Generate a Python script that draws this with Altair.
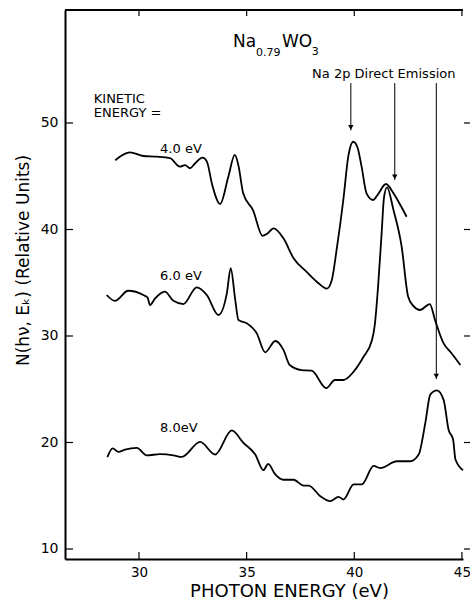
import altair as alt
import pandas as pd

# ---------------- data ----------------
ke4_x = [28.9, 29.2, 29.58, 30.2, 30.82, 31.44, 31.9, 32.14, 32.37, 32.6, 32.95, 33.15, 33.4, 33.77,
         34.15, 34.45, 34.62, 34.84, 35.3, 35.74, 35.95, 36.25, 36.71, 37.18, 37.8, 38.26, 38.73,
         38.95, 39.18, 39.49, 39.72, 39.95, 40.15, 40.34, 40.57, 40.88, 41.1, 41.47, 41.82, 42.14, 42.43]
ke4_y = [46.5, 46.95, 47.25, 46.9, 46.84, 46.7, 45.9, 46.05, 45.75, 46.2, 46.75, 46.4, 44.2, 42.4,
         44.96, 47.0, 46.0, 43.4, 41.8, 39.4, 39.6, 40.1, 39.17, 37.3, 36.0, 35.1, 34.45,
         35.2, 38.1, 42.77, 46.84, 48.24, 47.7, 45.9, 43.4, 42.77, 43.3, 44.27, 43.4, 42.3, 41.2]

ke6_x = [28.5, 28.88, 29.5, 30.2, 30.4, 30.51, 30.74, 31.2, 31.6, 32.06, 32.68, 33.15, 33.69, 34.08,
         34.26, 34.47, 34.62, 35.0, 35.47, 35.86, 36.33, 36.71, 37.0, 37.56, 38.02, 38.7, 39.1, 39.5,
         39.97, 40.43, 40.82, 40.95, 41.1, 41.27, 41.38, 41.52, 41.82, 42.2, 42.5, 42.75, 43.05, 43.51,
         43.75, 44.15, 44.47, 44.93]
ke6_y = [33.85, 33.3, 34.25, 33.85, 33.6, 32.9, 33.5, 34.16, 33.3, 33.0, 34.57, 33.85, 31.97, 34.0,
         36.36, 33.4, 31.5, 31.2, 30.25, 28.47, 29.53, 28.7, 27.28, 26.8, 26.74, 25.1, 25.87, 25.87,
         26.65, 28.05, 29.6, 31.0, 34.5, 39.64, 43.0, 43.95, 41.83, 38.4, 33.7, 32.8, 32.44, 33.0,
         31.5, 29.3, 28.5, 27.28]

ke8_x = [28.53, 28.78, 29.04, 29.35, 29.9, 30.36, 30.98, 31.6, 31.99, 32.84, 33.54, 34.31, 34.85,
         35.4, 35.78, 36.0, 36.33, 36.71, 37.18, 37.64, 37.88, 38.42, 38.88, 39.27, 39.5, 39.97,
         40.35, 40.9, 41.2, 41.98, 42.6, 42.99, 43.3, 43.53, 43.84, 44.15, 44.38, 44.59, 44.7, 45.05]
ke8_y = [18.62, 19.44, 19.12, 19.34, 19.5, 18.8, 18.9, 18.8, 18.65, 20.06, 18.87, 21.13, 19.97,
         18.87, 17.4, 18.0, 17.0, 16.5, 16.5, 15.96, 15.96, 14.96, 14.5, 14.9, 14.65, 16.06,
         16.06, 17.8, 17.6, 18.24, 18.24, 18.87, 21.85, 24.5, 24.9, 24.0, 21.2, 20.28, 18.4, 17.4]

series_names = ["4.0 eV", "6.0 eV", "8.0 eV"]

arrow_x = [39.84, 41.88, 43.81]
arrow_top = [53.75, 53.75, 53.75]
arrow_tip = [49.3, 44.65, 25.95]

y_ticks = [10, 20, 30, 40, 50]
x_ticks = [30, 35, 40, 45]

# ---------------- frames ----------------
rows = []
for name, xs_, ys_ in zip(series_names, [ke4_x, ke6_x, ke8_x], [ke4_y, ke6_y, ke8_y]):
    for i, (a, b) in enumerate(zip(xs_, ys_)):
        rows.append({"series": name, "order": i, "x": a, "y": b})
curves = pd.DataFrame(rows)
arrows = pd.DataFrame({"x": arrow_x, "y": arrow_top, "y2": arrow_tip})
yt = pd.DataFrame({"v": y_ticks})
xt = pd.DataFrame({"v": x_ticks})

W, H = 398, 549
FONT = "DejaVu Sans"
xs = alt.Scale(domain=[26.563, 45.05], nice=False, zero=False)
ys = alt.Scale(domain=[9.061, 60.61], nice=False, zero=False)

base_x = alt.X("x:Q", scale=xs,
               axis=alt.Axis(values=x_ticks, format="d", ticks=False, grid=False,
                             domainColor="black", domainWidth=2, labelPadding=6,
                             labelFontSize=13.5, labelFont=FONT, labelColor="black",
                             title="PHOTON ENERGY (eV)", titleFont=FONT, titleFontSize=18,
                             titleFontWeight="normal", titleColor="black",
                             titleX=224, titleY=37, titleBaseline="alphabetic"))
base_y = alt.Y("y:Q", scale=ys,
               axis=alt.Axis(values=y_ticks, format="d", ticks=False, grid=False,
                             domainColor="black", domainWidth=2, labelPadding=7,
                             labelFontSize=14, labelFont=FONT, labelColor="black",
                             title="N(hν, Eₖ)  (Relative Units)", titleFont=FONT,
                             titleFontSize=17, titleFontWeight="normal", titleColor="black",
                             titleX=-37, titleY=250, titleBaseline="alphabetic"))

lines = alt.Chart(curves).mark_line(color="black", strokeWidth=1.8, interpolate="monotone").encode(
    x=base_x, y=base_y, detail="series:N", order="order:Q")

# top frame line
top_line = alt.Chart(xt).mark_rule(color="black", strokeWidth=1.5).encode(
    x=alt.value(0), x2=alt.value(W), y=alt.value(0))

arrow_lines = alt.Chart(arrows).mark_rule(color="black", strokeWidth=1).encode(
    x=alt.X("x:Q", scale=xs), y=alt.Y("y:Q", scale=ys), y2="y2:Q")
arrow_heads = alt.Chart(arrows).mark_point(shape="triangle-down", filled=True, color="black",
                                           size=30, opacity=1, yOffset=-3).encode(
    x=alt.X("x:Q", scale=xs), y=alt.Y("y2:Q", scale=ys))

# ticks
left_t = alt.Chart(yt).mark_rule(color="black", strokeWidth=1.2).encode(
    y=alt.Y("v:Q", scale=ys), x=alt.value(0), x2=alt.value(8))
right_t = alt.Chart(yt).mark_rule(color="black", strokeWidth=1.2).encode(
    y=alt.Y("v:Q", scale=ys), x=alt.value(W + 1), x2=alt.value(W + 7))
bot_t = alt.Chart(xt).mark_rule(color="black", strokeWidth=1.2).encode(
    x=alt.X("v:Q", scale=xs), y=alt.value(H), y2=alt.value(H - 7))
top_t = alt.Chart(xt).mark_rule(color="black", strokeWidth=1.2).encode(
    x=alt.X("v:Q", scale=xs), y=alt.value(0), y2=alt.value(6))


def txt(label, x, y, size, align="left"):
    d = pd.DataFrame({"t": [label], "x": [x], "y": [y]})
    return alt.Chart(d).mark_text(font=FONT, fontSize=size, color="black", align=align,
                                  baseline="alphabetic").encode(
        x=alt.X("x:Q", scale=xs), y=alt.Y("y:Q", scale=ys), text="t:N")


labels = [
    txt("Na", 34.37, 57.1, 17),
    txt("0.79", 35.43, 56.27, 11),
    txt("WO", 36.64, 57.1, 17),
    txt("3", 38.03, 56.4, 11),
    txt("Na 2p  Direct Emission", 41.37, 54.2, 13, "center"),
    txt("KINETIC", 27.9, 51.88, 13),
    txt("ENERGY =", 27.9, 50.56, 13),
    txt("4.0 eV", 30.98, 47.18, 13),
    txt("6.0 eV", 30.98, 35.26, 13),
    txt("8.0eV", 30.98, 21.03, 13),
]

chart = alt.layer(lines, top_line, arrow_lines, arrow_heads, left_t, right_t, bot_t, top_t,
                  *labels).properties(
    width=W, height=H,
    autosize=alt.AutoSizeParams(type="none"),
    padding={"left": 65, "top": 10, "right": 7, "bottom": 40},
    background="white",
).configure_view(stroke=None)

chart.save("out.html", embed_options={"renderer": "svg", "actions": False})
